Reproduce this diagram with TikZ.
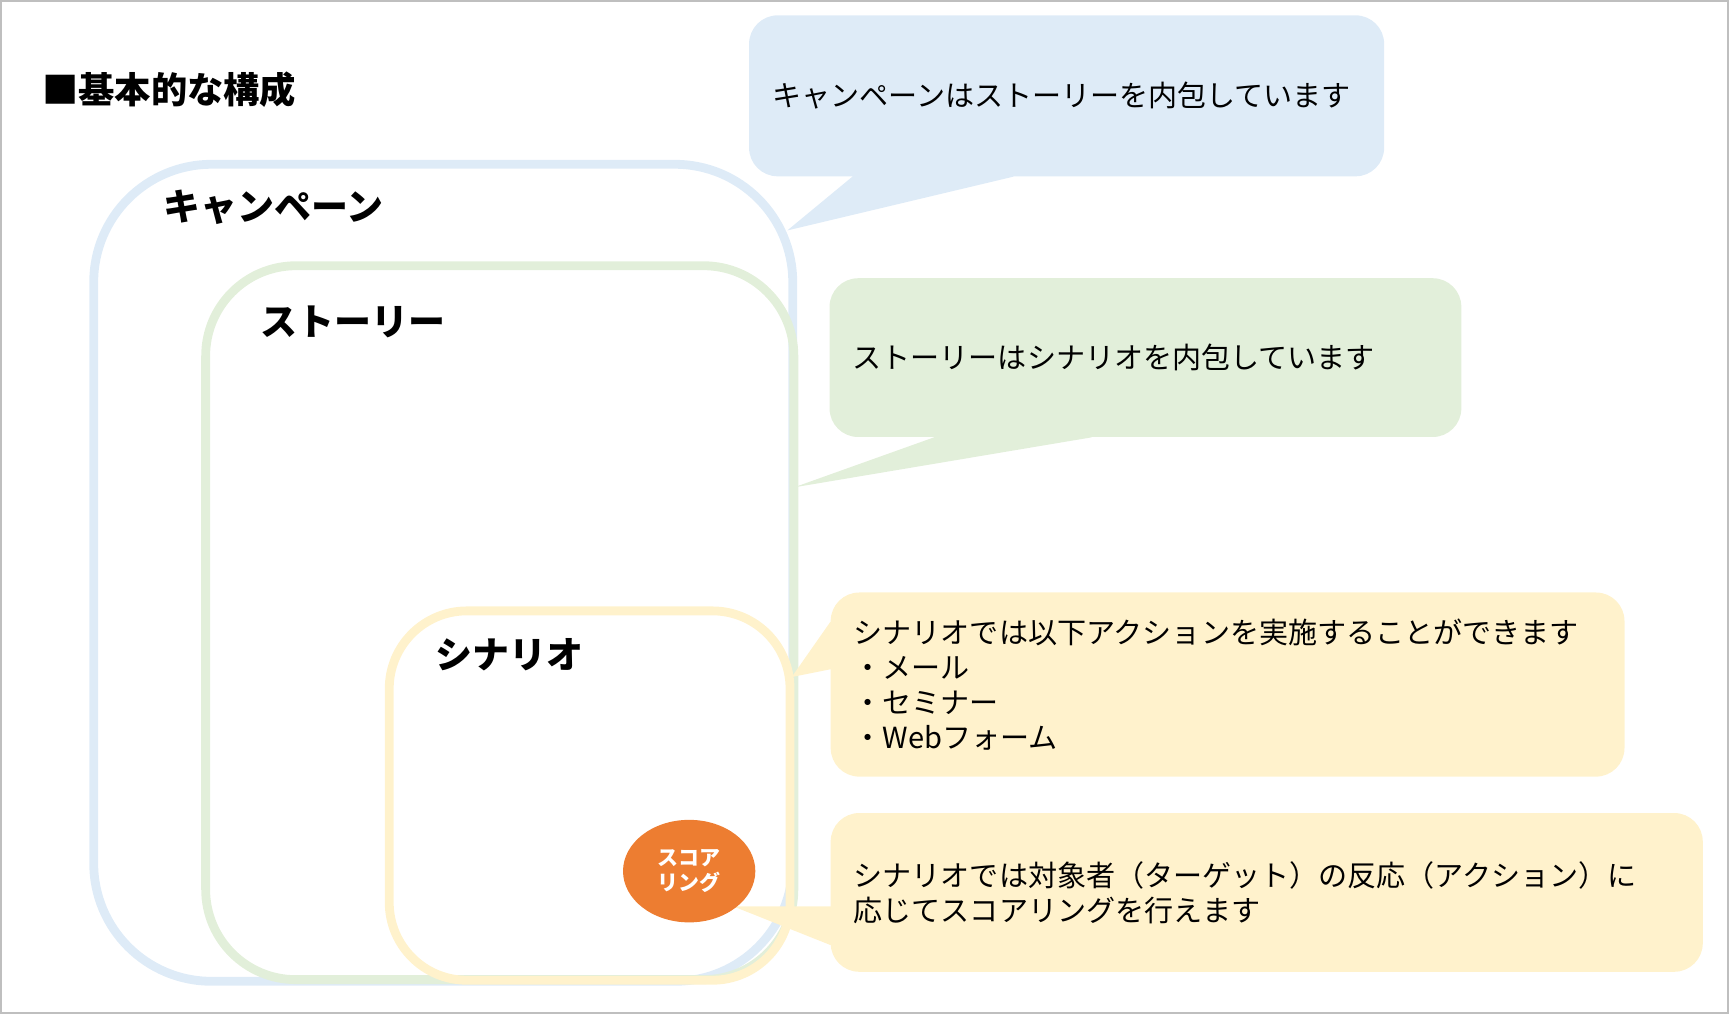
\documentclass[tikz,border=0pt]{standalone}
\usepackage{fontspec}
\setmainfont{Noto Sans CJK JP}
\usepackage{tikz}
\usetikzlibrary{shapes.geometric, calc, positioning}
\definecolor{campblue}{HTML}{DEEBF7}
\definecolor{storygreen}{HTML}{E2EFDA}
\definecolor{scenyellow}{HTML}{FFF2CC}
\definecolor{scoreorange}{HTML}{ED7D31}
\definecolor{framegray}{HTML}{BFBFBF}

\begin{document}
\begin{tikzpicture}[x=0.022cm, y=-0.022cm,
    frame/.style={draw=framegray, line width=0.035cm},
    layer/.style={draw=#1, line width=0.176cm, rectangle, anchor=north west, inner sep=0pt},
    note/.style={fill=#1, rectangle, rounded corners=0.57cm, anchor=north west, inner xsep=0.46cm, inner ysep=0pt, align=left, font=\fontsize{16.5}{20}\selectfont},
    tag/.style={anchor=west, inner sep=0pt, font=\fontsize{21}{24}\selectfont\bfseries}]
    \useasboundingbox (0,0) rectangle (1568,919.6);
    \draw[frame] (0.8,0.8) rectangle (1567.2,918.8);
    \node[anchor=west, inner sep=0pt, font=\fontsize{20.6}{24}\selectfont\bfseries] (title) at (38,81.5) {■基本的な構成};
    \node[layer=campblue, rounded corners=2.35cm, minimum width=13.948cm, minimum height=16.302cm] (camp) at (81,145) {};
    \node[layer=storygreen, rounded corners=1.8cm, minimum width=11.737cm, minimum height=14.245cm] (story) at (182.5,237) {};
    \node[layer=scenyellow, rounded corners=1.55cm, minimum width=7.997cm, minimum height=7.37cm] (scen) at (349,550) {};
    \node[tag] (camplabel) at (148,188) {キャンペーン};
    \node[tag] (storylabel) at (236,292) {ストーリー};
    \node[tag] (scenlabel) at (395,594) {シナリオ};
    \coordinate (tip1) at (714,209);
    \coordinate (tip2) at (720,442);
    \coordinate (tip3) at (718,614);
    \coordinate (tip4) at (665,822);
    \node[note=campblue, text width=11.752cm, minimum height=3.212cm] (note1) at (679,13.6) {キャンペーンはストーリーを内包しています};
    \node[note=storygreen, text width=11.686cm, minimum height=3.168cm] (note2) at (752,252) {ストーリーはシナリオを内包しています};
    \node[note=scenyellow, text width=14.92cm, minimum height=3.674cm] (note3) at (753,537) {シナリオでは以下アクションを実施することができます\\・メール\\・セミナー\\・Webフォーム};
    \node[note=scenyellow, text width=16.482cm, minimum height=3.168cm] (note4) at (753,737) {シナリオでは対象者（ターゲット）の反応（アクション）に\\応じてスコアリングを行えます};
    \fill[campblue] ($(note1.south west)+(94,-5)$) -- ($(note1.south west)+(94,0)$) -- (tip1) -- ($(note1.south west)+(240,0)$) -- ($(note1.south west)+(240,-5)$) -- cycle;
    \fill[storygreen] ($(note2.south west)+(95,-5)$) -- ($(note2.south west)+(95,0)$) -- (tip2) -- ($(note2.south west)+(238,0)$) -- ($(note2.south west)+(238,-5)$) -- cycle;
    \fill[scenyellow] ($(note3.north west)+(5,27)$) -- ($(note3.north west)+(0,27)$) -- (tip3) -- ($(note3.north west)+(0,70)$) -- ($(note3.north west)+(5,70)$) -- cycle;
    \fill[scenyellow] ($(note4.north west)+(5,85)$) -- ($(note4.north west)+(0,85)$) -- (tip4) -- ($(note4.north west)+(0,120)$) -- ($(note4.north west)+(5,120)$) -- cycle;
    \node[ellipse, fill=scoreorange, minimum width=2.64cm, minimum height=2.046cm, inner sep=0pt, text=white, align=center, font=\fontsize{11.9}{14.3}\selectfont\bfseries] (score) at (625,790) {スコア\\リング};
\end{tikzpicture}
\end{document}
